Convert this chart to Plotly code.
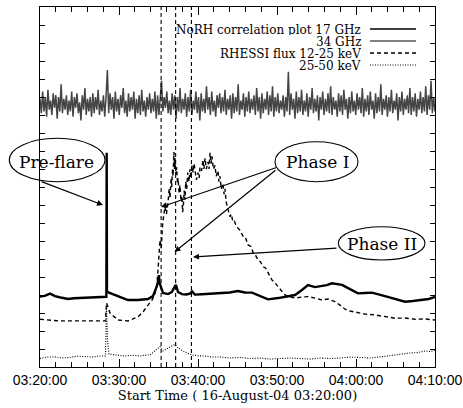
import numpy as np
import pandas as pd
import plotly.graph_objects as go

# ---------------- data (minutes after 03:20:00, arbitrary normalised units) ----------------
T0 = pd.Timestamp("2004-08-16 03:20:00")

ghz17_min = [0, 0.6, 1.27, 1.9, 2.6, 3.54, 4.3, 5.06, 6.0, 6.96, 7.7, 8.29, 8.40, 8.44, 8.48, 8.73,
             9.49, 10.3, 11.14, 12.4, 13.67, 14.3, 14.8, 15.0, 15.06, 15.12, 15.19, 15.57, 16.2, 16.7,
             17.03, 17.2, 17.47, 17.97, 18.5, 18.99, 19.24, 19.6, 20.5, 21.77, 23.04, 24.0, 25.06,
             25.95, 26.84, 27.85, 28.86, 30.13, 31.0, 32.28, 33.16, 33.92, 34.8, 35.7, 36.3, 36.96,
             37.6, 38.23, 39.24, 40.25, 41.14, 42.03, 43.67, 44.94, 46.2, 47.2, 48.35, 49.2, 50.0]
ghz17_val = [3.91, 3.95, 4.08, 3.94, 3.86, 3.78, 3.82, 3.83, 3.86, 3.89, 3.9, 3.89, 3.9, 11.9, 4.2, 4.13,
             4.0, 3.85, 3.72, 3.72, 3.78, 3.94, 4.5, 4.85, 5.1, 4.7, 4.6, 4.11, 4.05, 4.17,
             4.45, 4.56, 4.17, 4.05, 4.03, 4.08, 4.2, 4.02, 4.04, 4.08, 4.11, 4.14, 4.22,
             4.14, 4.13, 3.94, 3.76, 3.83, 3.89, 4.0, 4.28, 4.55, 4.44, 4.5, 4.55, 4.65,
             4.6, 4.56, 4.33, 4.09, 4.11, 4.13, 3.94, 3.78, 3.63, 3.67, 3.72, 3.78, 3.89]

ghz34_val = [
    14.9, 14.1, 15.3, 14.2, 15.0, 13.9, 15.4, 14.3, 14.8, 14.0, 15.2, 14.4, 15.1, 13.8, 15.0, 14.2, 15.7, 14.1, 14.9, 14.3,
    15.1, 14.0, 14.8, 14.2, 15.3, 13.9, 15.0, 14.4, 15.2, 14.1, 14.7, 13.7, 15.1, 14.3, 15.5, 14.0, 14.9, 14.2, 15.0, 13.9,
    15.2, 14.1, 15.0, 14.3, 15.4, 14.0, 14.8, 14.2, 15.1, 13.9, 15.0, 16.5, 14.1, 15.2, 14.3, 15.0, 13.8, 15.3, 14.2, 14.9,
    14.0, 15.1, 14.4, 15.5, 14.1, 14.8, 13.9, 15.2, 14.2, 15.0, 14.3, 15.3, 13.8, 14.9, 14.1, 15.1, 14.0, 15.4, 14.2, 14.8,
    13.9, 15.0, 14.3, 15.2, 14.1, 14.9, 14.2, 15.3, 13.8, 15.1, 14.0, 15.2, 15.9, 14.2, 15.0, 14.4, 15.3, 14.1, 14.8, 14.0,
    15.2, 14.3, 15.1, 13.8, 15.0, 14.2, 15.5, 14.1, 14.9, 14.3, 15.2, 13.9, 15.0, 14.2, 15.4, 14.0, 14.8, 14.3, 15.3, 14.1,
    15.0, 13.7, 15.2, 14.2, 14.9, 14.1, 15.6, 14.3, 15.0, 14.0, 15.3, 14.2, 14.8, 13.9, 15.1, 14.4, 15.2, 14.1, 15.0, 14.2,
    15.4, 14.0, 14.9, 14.3, 15.1, 13.8, 15.2, 14.1, 15.0, 14.2, 15.7, 14.0, 14.8, 14.3, 15.2, 13.9, 15.0, 14.2, 15.3, 14.1,
    14.9, 14.3, 15.1, 14.0, 15.5, 14.2, 15.0, 13.8, 15.2, 14.1, 14.9, 14.3, 15.3, 14.0, 15.1, 14.2, 15.6, 13.9, 15.0, 14.2,
    15.2, 14.1, 14.8, 14.3, 15.1, 13.9, 15.0, 14.2, 16.4, 14.0, 15.2, 14.3, 14.9, 13.8, 15.3, 14.1, 15.0, 14.2, 15.4, 14.0,
    14.8, 14.2, 15.2, 13.9, 15.0, 14.3, 15.5, 14.1, 14.9, 14.2, 15.1, 13.7, 15.0, 14.3, 15.3, 14.0, 14.9, 14.2, 15.2, 14.1,
    15.6, 14.0, 15.0, 14.3, 14.8, 13.9, 15.2, 14.2, 15.1, 14.0, 15.4, 14.3, 14.9, 13.8, 15.0, 14.1, 15.3, 14.2, 14.8, 14.0,
    15.2, 14.3, 15.0, 14.1, 15.5, 13.9, 14.9, 14.2, 15.1, 14.0, 15.3, 14.3, 14.8, 13.8, 15.2, 14.1, 15.0, 14.2, 15.7, 14.0,
    14.9, 14.3, 15.1, 13.9, 15.0, 14.2, 15.4, 14.1, 14.8, 14.3, 15.2, 13.7, 15.0, 14.2, 15.3, 14.0, 14.9, 14.3, 15.1, 14.1,
    15.5, 14.0, 15.0, 14.2, 15.2, 13.9, 14.9, 14.3, 15.3, 14.1, 15.0, 14.2, 15.6, 14.0, 15.1, 14.3, 15.9, 14.1, 15.0, 14.2,
]

kev12_min = [0, 2.53, 5.06, 8.29, 8.42, 8.86, 9.87, 11.14, 12.41, 13.04, 13.67, 14.18, 14.5, 14.77, 14.94,
             15.05, 15.19, 15.35, 15.53, 15.82, 16.0, 16.2, 16.35, 16.46, 16.6, 16.67, 16.78, 16.84,
             16.96, 17.03, 17.09, 17.2, 17.3, 17.4, 17.47, 17.6, 17.72, 17.85, 17.97, 18.05, 18.14,
             18.25, 18.35, 18.45, 18.57, 18.7, 18.85, 18.99, 19.1, 19.25, 19.37, 19.5, 19.62, 19.8,
             20.0, 20.15, 20.25, 20.45, 20.63, 20.75, 20.89, 21.05, 21.27, 21.4, 21.52, 21.65, 21.77,
             21.95, 22.15, 22.3, 22.53, 22.65, 22.78, 22.95, 23.16, 23.3, 23.42, 23.55, 23.71, 23.85,
             24.05, 24.2, 24.43, 24.6, 24.9, 25.3, 25.73, 26.0, 26.33, 26.7, 27.0, 27.3, 27.59, 27.9,
             28.27, 28.55, 28.86, 29.1, 29.37, 29.7, 30.13, 30.5, 31.01, 31.65, 32.28, 33.16, 33.92,
             34.81, 35.7, 36.46, 37.34, 37.97, 38.61, 39.24, 40.25, 41.14, 42.41, 43.67, 44.94, 46.2,
             47.47, 48.73, 50.0]
kev12_val = [2.65, 2.56, 2.56, 2.56, 3.56, 3.0, 2.61, 2.56, 2.79, 3.06, 3.44, 3.72, 4.0, 4.46, 5.39,
             6.3, 7.06, 6.6, 8.0, 8.9, 8.5, 9.11, 9.9, 9.4, 10.5, 10.0, 11.0, 10.6,
             11.94, 11.0, 11.6, 10.7, 11.1, 10.2, 10.5, 9.7, 10.1, 9.2, 9.5, 8.6, 8.9,
             9.8, 9.3, 10.3, 9.9, 10.8, 10.3, 11.0, 10.5, 11.2, 10.8, 11.3, 10.9, 10.4,
             10.8, 10.5, 11.1, 10.9, 11.5, 11.0, 11.6, 11.0, 11.4, 11.0, 11.9, 11.3, 11.7,
             11.0, 11.2, 10.6, 10.9, 10.3, 10.6, 9.9, 10.2, 9.6, 9.9, 9.2, 8.9, 8.6,
             8.35, 8.5, 8.06, 8.1, 7.79, 7.6, 7.24, 7.2, 6.78, 6.7, 6.32, 6.2, 5.94, 5.85,
             5.57, 5.5, 5.22, 5.0, 4.83, 4.7, 4.46, 4.3, 4.0, 3.89, 3.83, 3.89, 3.91,
             3.83, 3.72, 3.78, 3.63, 3.44, 3.21, 3.11, 3.02, 2.94, 2.89, 2.78, 2.71, 2.72,
             2.65, 2.67, 2.61]

kev25_min = [0, 0.9, 1.9, 2.8, 3.8, 4.7, 5.7, 6.6, 7.59, 8.29, 8.42, 8.54, 8.73, 9.49, 10.76, 11.7,
             12.66, 13.3, 13.92, 14.3, 14.68, 15.19, 15.57, 16.2, 16.71, 17.09, 17.47, 17.9, 18.35,
             19.24, 20.0, 20.89, 21.8, 22.78, 24.0, 25.32, 26.6, 27.85, 29.1, 30.38, 31.6, 32.91,
             34.2, 35.44, 36.7, 37.97, 39.2, 40.5, 41.8, 43.04, 44.0, 44.94, 45.9, 46.84, 47.8,
             48.73, 49.4, 50.0]
kev25_val = [0.48, 0.55, 0.56, 0.5, 0.53, 0.6, 0.58, 0.55, 0.61, 0.61, 3.44, 1.5, 0.72, 0.67, 0.61,
             0.66, 0.61, 0.66, 0.67, 0.8, 0.94, 1.13, 0.89, 1.06, 1.17, 1.25, 1.06, 0.95, 0.83,
             0.67, 0.62, 0.61, 0.55, 0.56, 0.5, 0.53, 0.47, 0.5, 0.44, 0.47, 0.5, 0.47,
             0.44, 0.5, 0.47, 0.5, 0.55, 0.53, 0.5, 0.56, 0.62, 0.67, 0.7, 0.78, 0.8,
             0.89, 0.86, 0.94]

phase_lines_min = [15.33, 17.17, 19.17]

legend_labels = ["NoRH correlation plot 17 GHz", "34 GHz", "RHESSI flux 12-25 keV", "25-50 keV"]
tick_step_min = 10
minor_step_min = 2


def times(mins):
    return [T0 + pd.Timedelta(minutes=float(m)) for m in mins]


# ---------------- layout geometry helpers (pixel -> paper) ----------------
W, H = 463, 408
ML, MR, MT, MB = 40, 28, 7, 41
PW, PH = W - ML - MR, H - MT - MB


def px(x):
    return (x - ML) / PW


def py(y):
    return (H - MB - y) / PH


fig = go.Figure()

fig.add_trace(go.Scatter(x=times(np.linspace(0, 50, len(ghz34_val))), y=ghz34_val, mode="lines",
                         line=dict(color="#454545", width=1.5), name=legend_labels[1]))
fig.add_trace(go.Scatter(x=times(ghz17_min), y=ghz17_val, mode="lines",
                         line=dict(color="black", width=2.4), name=legend_labels[0]))
fig.add_trace(go.Scatter(x=times(kev12_min), y=kev12_val, mode="lines",
                         line=dict(color="black", width=1.4, dash="4px,3px"), name=legend_labels[2]))
fig.add_trace(go.Scatter(x=times(kev25_min), y=kev25_val, mode="lines",
                         line=dict(color="black", width=1.1, dash="1px,1.5px"), name=legend_labels[3]))

shapes = []
for m in phase_lines_min:
    t = T0 + pd.Timedelta(minutes=m)
    shapes.append(dict(type="line", xref="x", yref="paper", x0=t, x1=t, y0=0, y1=1,
                       line=dict(color="black", width=1.1, dash="4px,3px")))

# legend samples
leg_rows = [29, 41, 53, 65]
leg_styles = [dict(width=1.3), dict(width=1.1), dict(width=1.3, dash="4px,3px"), dict(width=1, dash="1px,1.5px")]
annotations = []
for lab, yr, st in zip(legend_labels, leg_rows, leg_styles):
    annotations.append(dict(text=lab, xref="paper", yref="paper", x=px(362), y=py(yr),
                            xanchor="right", yanchor="middle", showarrow=False,
                            height=11, borderpad=0, valign="middle",
                            font=dict(family="DejaVu Serif", size=12, color="black")))
    shapes.append(dict(type="line", xref="paper", yref="paper", x0=px(370), x1=px(416),
                       y0=py(yr), y1=py(yr), line=dict(color="black", **st)))

# ellipses
for (x0, x1, y0, y1) in [(9.3, 105, 138.3, 181.7), (275, 358, 141.7, 181.7), (338.3, 425, 226.7, 260)]:
    shapes.append(dict(type="circle", xref="paper", yref="paper", x0=px(x0), x1=px(x1),
                       y0=py(y1), y1=py(y0), line=dict(color="black", width=1.1)))

for txt, (tx, ty) in [("Pre-flare", (56, 162)), ("Phase I", (317, 162)), ("Phase II", (382, 244))]:
    annotations.append(dict(text=txt, xref="paper", yref="paper", x=px(tx), y=py(ty),
                            xanchor="center", yanchor="middle", showarrow=False,
                            font=dict(family="DejaVu Serif", size=17, color="black")))

# arrows: (tail, head)
for (tx, ty), (hx, hy) in [((40, 181), (103, 205)), ((278, 167), (161, 207)),
                           ((277, 169), (174.5, 252)), ((338, 248), (193, 257))]:
    annotations.append(dict(text="", xref="paper", yref="paper", x=px(hx), y=py(hy),
                            ax=tx - hx, ay=ty - hy, axref="pixel", ayref="pixel",
                            showarrow=True, arrowhead=2, arrowsize=1, arrowwidth=1.2,
                            arrowcolor="black"))

fig.update_layout(
    width=W, height=H, margin=dict(l=ML, r=MR, t=MT, b=MB, pad=0, autoexpand=False),
    paper_bgcolor="white", plot_bgcolor="white", showlegend=False,
    shapes=shapes, annotations=annotations,
    xaxis=dict(type="date", range=[T0, T0 + pd.Timedelta(minutes=50)], automargin=False,
               tickformat="%H:%M:%S", dtick=tick_step_min * 60000, tick0=T0,
               ticks="inside", ticklen=8, tickwidth=1, tickcolor="black",
               minor=dict(dtick=minor_step_min * 60000, ticks="inside", ticklen=5, tickcolor="black"),
               showline=True, linecolor="black", linewidth=1, mirror="ticks",
               showgrid=False, zeroline=False,
               tickfont=dict(family="Liberation Sans", size=14, color="black"),
               title=dict(text="Start Time ( 16-August-04 03:20:00)", standoff=0,
                          font=dict(family="DejaVu Serif", size=13, color="black"))),
    yaxis=dict(range=[0, 20], dtick=1, ticks="inside", ticklen=5, tickcolor="black", automargin=False,
               showticklabels=False, showline=True, linecolor="black", linewidth=1,
               mirror="ticks", showgrid=False, zeroline=False),
)

fig.write_html("out.html", config={"displayModeBar": False, "staticPlot": True},
               post_script="document.body.style.margin='0px';document.body.style.overflow='hidden';")
